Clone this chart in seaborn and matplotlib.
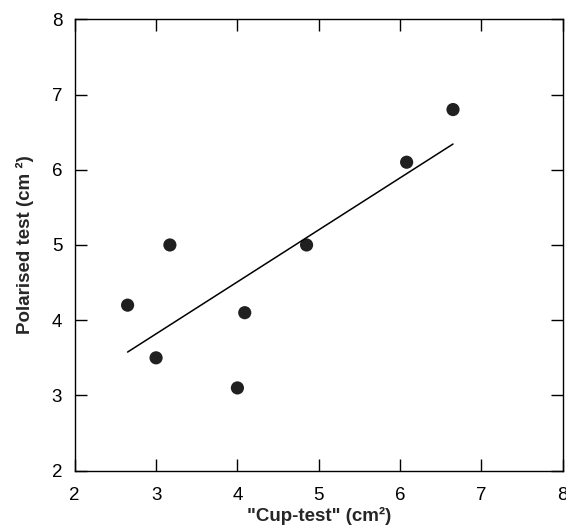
import pandas as pd
import seaborn as sns
import matplotlib.pyplot as plt

# values
cup_test = [2.65, 3.0, 3.17, 4.0, 4.09, 4.85, 6.08, 6.65]
polarised_test = [4.2, 3.5, 5.0, 3.1, 4.1, 5.0, 6.1, 6.8]
axis_ticks = [2, 3, 4, 5, 6, 7, 8]

df = pd.DataFrame({"cup": cup_test, "polarised": polarised_test})

sns.set_theme(style="ticks")
plt.rcParams["font.family"] = ["Liberation Sans", "DejaVu Sans"]

fig = plt.figure(figsize=(5.66, 5.31), dpi=100)
ax = fig.add_axes([0.132, 0.1136, 0.8624, 0.8501])

sns.regplot(
    data=df, x="cup", y="polarised", ax=ax, ci=None, truncate=True,
    scatter_kws={"s": 90, "color": "#202020", "edgecolor": "none", "alpha": 1},
    line_kws={"color": "black", "linewidth": 1.1},
)

ax.set_xlim(2, 8)
ax.set_ylim(2, 8)
ax.set_xticks(axis_ticks)
ax.set_yticks(axis_ticks)
ax.tick_params(direction="in", length=8.5, width=1, top=True, right=True,
               labelsize=13.5, color="black", labelcolor="black")
ax.tick_params(axis="x", pad=12)
ax.tick_params(axis="y", pad=9)
for sp in ax.spines.values():
    sp.set_visible(True)
    sp.set_color("black")
    sp.set_linewidth(1.0)

ax.set_xlabel('"Cup-test" (cm²)', fontsize=13.5, fontweight="bold", labelpad=2)
ax.set_ylabel("Polarised test (cm ²)", fontsize=13.5, fontweight="bold", labelpad=13)

fig.savefig("out.png", dpi=100)
